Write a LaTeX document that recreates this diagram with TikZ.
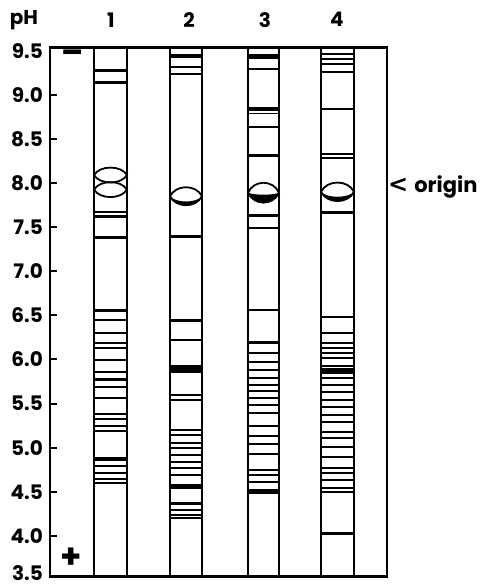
\documentclass[tikz,border=0pt]{standalone}
\usepackage{fontspec}
\setmainfont{Poppins}
\newfontfamily\chevronfont{DejaVu Sans}
\usepackage{tikz}
\usetikzlibrary{positioning}

% lens at the origin of a tube: left x, right x, pH, bulge, inner bulge of the dark crescent
\newcommand\tubelens[5]{%
  \fill (#1,#3) .. controls +(6,-#4) and +(-6,-#4) .. (#2,#3)
                .. controls +(-6,-#5) and +(6,-#5) .. (#1,#3) -- cycle;
  \draw[lensline] (#1,#3) .. controls +(6,#4) and +(-6,#4) .. (#2,#3)
                          .. controls +(-6,-#4) and +(6,-#4) .. (#1,#3);}

\begin{document}
\begin{tikzpicture}[x=1pt, y=88.25pt,
    frame/.style={line width=2.6pt},
    wall/.style={line width=2pt},
    lensline/.style={line width=1.8pt},
    ticklab/.style={anchor=east, inner sep=0pt, font=\fontsize{20}{20}\selectfont\bfseries},
    toplab/.style={inner sep=0pt, font=\fontsize{20}{20}\selectfont\bfseries}
]
\useasboundingbox (0,3.4221) rectangle (485,10.0737);
% labels on top
\node[toplab] (ph) at (24,9.85) {pH};
\node[toplab] (lane1) at (111,9.85) {1};
\node[toplab] (lane2) at (189,9.85) {2};
\node[toplab] (lane3) at (265,9.85) {3};
\node[toplab] (lane4) at (337,9.85) {4};
% pH scale
\foreach \v/\y [count=\i] in {3.5/3.585,4.0/4.0,4.5/4.5,5.0/5.0,5.5/5.5,6.0/6.0,6.5/6.5,7.0/7.0,
    7.5/7.5,8.0/8.0,8.5/8.5,9.0/9.0,9.5/9.5}
  \node[ticklab] (tick\i) at (43,\y) {\v};
\foreach \v in {4.0,4.5,5.0,5.5,6.0,6.5,7.0,7.5,8.0,8.5,9.0}
  \draw[line width=2pt] (50,\v) -- (57,\v);
% electrodes
\node[inner sep=0pt, font=\fontsize{32}{32}\selectfont\bfseries] (minus) at (73,9.43) {–};
\node[inner sep=0pt, font=\fontsize{34}{34}\selectfont\bfseries] (plus) at (71,3.75) {+};
\node[anchor=west, inner sep=0pt, font=\fontsize{21}{21}\selectfont\bfseries] (origin) at (388,7.96)
  {{\chevronfont\fontsize{24}{24}\selectfont<}\hspace{6pt}origin};
% bands, lane 1 to 4
\foreach \p/\w in {9.27/3,9.14/2.5,7.67/2,7.62/3,7.38/2.5,6.56/3,6.45/2,6.30/2,6.19/2,6.13/2,
    5.99/2,5.86/2,5.77/3,5.69/2,5.56/2,5.38/2,5.33/2,5.25/2,5.19/2,4.87/3.5,4.79/2,4.71/2,4.65/2,4.60/2}
  \draw[line width=\w pt] (94,\p) -- (127,\p);
\foreach \p/\w in {9.44/3.5,9.31/2,9.23/2,7.39/3,6.44/2.5,6.22/2.5,5.89/8,5.60/2.5,5.54/2,5.20/2,
    5.15/2,5.05/2,5.00/2,4.92/2,4.84/2,4.77/2,4.69/2,4.56/5,4.37/2.5,4.30/2,4.24/2,4.20/2}
  \draw[line width=\w pt] (170,\p) -- (202,\p);
\foreach \p/\w in {9.43/5,9.29/2.5,8.84/4,8.79/1.5,8.64/2,8.31/2.5,7.63/2.5,7.49/2.5,6.56/2.5,6.19/2.5,
    6.07/2,5.97/2,5.88/2,5.79/2,5.71/2,5.64/2,5.56/2,5.49/2,5.39/2,5.25/2,5.13/2,5.04/2,4.93/2,
    4.75/2,4.69/2,4.61/2,4.50/5}
  \draw[line width=\w pt] (248,\p) -- (279,\p);
\foreach \p/\w in {9.46/2,9.41/2,9.35/2,9.26/2,8.84/2.5,8.33/2.5,8.28/2,7.67/3,6.48/2,6.30/2,6.19/2,
    6.13/2,6.07/2,6.02/2,5.93/2,5.87/6,5.79/2.5,5.71/2,5.63/2,5.54/2,5.46/2,5.37/2,5.29/2,5.18/2,
    5.11/2,5.01/2,4.90/2,4.77/2,4.71/2,4.64/2,4.54/2,4.50/2,4.03/2.5}
  \draw[line width=\w pt] (321,\p) -- (354,\p);
% lenses at the origin
\tubelens{94}{127}{8.09}{0.113}{0.113}
\tubelens{94}{127}{7.925}{0.113}{0.113}
\tubelens{170}{202}{7.85}{0.136}{0.08}
\tubelens{248}{279}{7.89}{0.15}{0.03}
\tubelens{321}{354}{7.90}{0.14}{0.075}
% tubes and frame
\foreach \l/\r in {94/127,170/202,248/279,321/354}
  \draw[wall] (\l,3.54) -- (\l,9.535) (\r,3.54) -- (\r,9.535);
\draw[frame] (50,3.54) rectangle (387,9.535);
\end{tikzpicture}
\end{document}
